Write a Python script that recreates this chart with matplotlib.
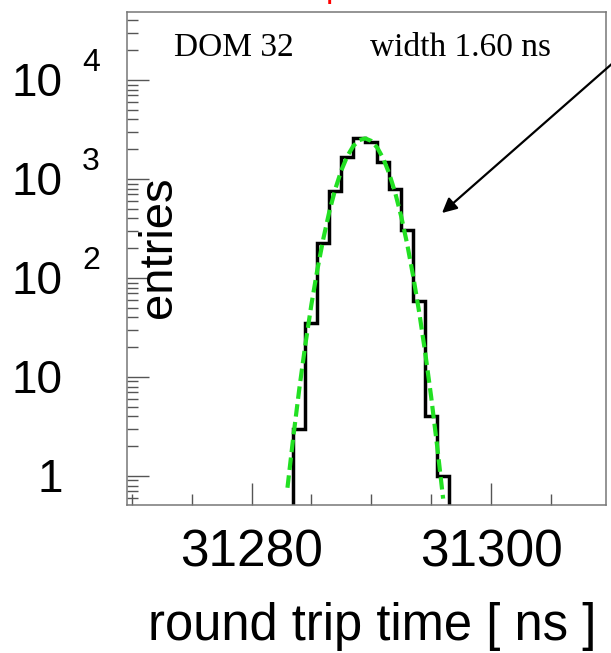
import matplotlib
matplotlib.use("Agg")
import matplotlib.pyplot as plt
import matplotlib.transforms as mtransforms
import numpy as np

# histogram of round trip times, 1 ns bins
bin_edges = [31283.5, 31284.5, 31285.5, 31286.5, 31287.5, 31288.5, 31289.5,
             31290.5, 31291.5, 31292.5, 31293.5, 31294.5, 31295.5, 31296.5]
counts = [3, 35, 224, 757, 1680, 2576, 2382, 1475, 787, 305, 58, 4, 1]

# gaussian fit curve
fit_x = [31283.0, 31283.5, 31284.0, 31284.5, 31285.0, 31285.5, 31286.0, 31286.5,
         31287.0, 31287.5, 31288.0, 31288.5, 31289.0, 31289.5, 31290.0, 31290.5,
         31291.0, 31291.5, 31292.0, 31292.5, 31293.0, 31293.5, 31294.0, 31294.5,
         31295.0, 31295.5, 31296.0]
fit_y = [0.76, 2.55, 7.8, 21.5, 54, 122, 251, 470,
         796, 1223, 1704, 2155, 2470, 2569, 2422, 2072,
         1608, 1131, 722, 418, 219, 104, 45, 17.7,
         6.3, 2.0, 0.59]

y_decades = [1, 10, 100, 1000, 10000]
y_base = ["1", "10", "10", "10", "10"]
y_exp = ["", "", "2", "3", "4"]
x_major = [31280, 31300]
x_minor = [31270, 31275, 31285, 31290, 31295, 31305]

W, H = 611, 653
fig = plt.figure(figsize=(W / 100, H / 100), dpi=100)
ax = fig.add_axes([127 / W, 1 - 505 / H, 479 / W, 493 / H])

sans = "Liberation Sans"
serif = "Liberation Serif"

ax.stairs(counts, bin_edges, baseline=1e-3, color="black", lw=2.5)
ax.plot(fit_x, fit_y, color="#22e022", lw=3.0, dashes=(3.0, 1.3))

ax.set_yscale("log")
ax.set_xlim(31269.6, 31309.6)
ax.set_ylim(0.509, 48600)

ax.set_xticks(x_major)
ax.set_xticks(x_minor, minor=True)
ax.set_xticklabels([str(v) for v in x_major], fontsize=37, family=sans)
ax.set_yticks(y_decades)
ax.set_yticklabels([""] * len(y_decades))
ax.yaxis.set_minor_locator(matplotlib.ticker.LogLocator(base=10, subs=np.arange(2, 10)))
ax.yaxis.set_minor_formatter(matplotlib.ticker.NullFormatter())
ax.tick_params(which="major", direction="in", length=16, width=1.0, color="#555555")
ax.tick_params(which="minor", direction="in", length=8, width=1.0, color="#555555")
ax.tick_params(axis="x", which="major", pad=17)
ax.tick_params(top=False, right=False, which="both")

for s in ax.spines.values():
    s.set_color("#777777")
    s.set_linewidth(1.1)

# y tick labels in ROOT style: base right aligned, exponent raised
trans = mtransforms.blended_transform_factory(ax.transAxes, ax.transData)
for v, b, e in zip(y_decades, y_base, y_exp):
    ax.annotate(b, xy=(-0.134, v), xycoords=trans, xytext=(0, -11.5),
                textcoords="offset points", ha="right", va="baseline",
                fontsize=33, family=sans, annotation_clip=False)
    if e:
        ax.annotate(e, xy=(-0.094, v), xycoords=trans, xytext=(0, 6.5),
                    textcoords="offset points", ha="left", va="baseline",
                    fontsize=23, family=sans, annotation_clip=False)

ax.text(0.066, 0.523, "entries", transform=ax.transAxes, rotation=90,
        ha="center", va="center", fontsize=34, family=sans)
fig.text(372 / W, 13 / H, "round trip time [ ns ]", ha="center",
         va="baseline", fontsize=36.5, family=sans)

ax.text(0.098, 0.91, "DOM 32", transform=ax.transAxes, fontsize=24,
        family=serif, va="baseline")
ax.text(0.508, 0.91, "width 1.60 ns", transform=ax.transAxes, fontsize=24,
        family=serif, va="baseline")

# bottom of the red title that is cut off at the top edge
fig.text(326 / W, 1 + 3 / H, "p", color="red", fontsize=24, family=sans,
         va="baseline", ha="left")

ax.annotate("", xy=(442, H - 213), xycoords="figure pixels",
            xytext=(614, H - 62), textcoords="figure pixels",
            arrowprops=dict(arrowstyle="-|>", color="black", lw=1.6,
                            mutation_scale=22, shrinkA=0, shrinkB=0),
            annotation_clip=False)

fig.savefig("out.png", dpi=100)
